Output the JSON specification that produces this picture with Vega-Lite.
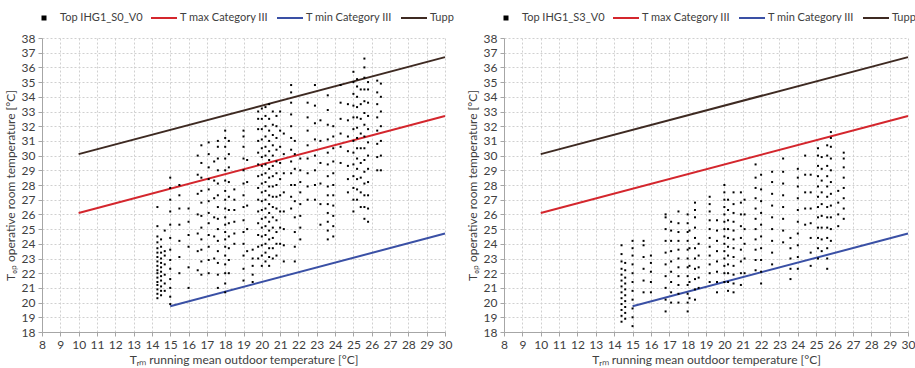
{
  "$schema": "https://vega.github.io/schema/vega-lite/v6.json",
  "background": "white",
  "padding": {"left": 4, "top": 4, "right": 0, "bottom": 4},
  "bounds": "flush",
  "config": {
    "view": {"stroke": null},
    "font": "Lato",
    "axis": {
      "grid": true, "gridDash": [2, 2], "gridColor": "#d0d0d0", "gridWidth": 1,
      "domainColor": "#a6a6a6", "tickColor": "#a6a6a6", "tickSize": 4,
      "labelFont": "Lato", "labelFontSize": 12, "labelColor": "#404040", "labelOverlap": false, "labelFlush": false,
      "titleFont": "Lato", "titleFontSize": 12, "titleFontWeight": "normal", "titleColor": "#404040"
    },
    "legend": {"labelFont": "Lato", "labelFontSize": 11, "labelColor": "#404040"}
  },
  "datasets": {
    "lines": [
      {"s": "T max Category III", "x": 10, "y": 26.1}, {"s": "T max Category III", "x": 30, "y": 32.7},
      {"s": "T min Category III", "x": 15, "y": 19.75}, {"s": "T min Category III", "x": 30, "y": 24.7},
      {"s": "Tupp", "x": 10, "y": 30.1}, {"s": "Tupp", "x": 30, "y": 36.7}
    ],
    "s0": [
      {"x":14.3,"y":20.3},{"x":14.3,"y":20.6},{"x":14.3,"y":20.9},{"x":14.3,"y":21.2},{"x":14.3,"y":21.4},{"x":14.3,"y":21.7},{"x":14.3,"y":22.0},{"x":14.3,"y":22.2},{"x":14.3,"y":22.5},{"x":14.3,"y":22.8},{"x":14.3,"y":23.1},{"x":14.3,"y":23.4},{"x":14.3,"y":23.7},{"x":14.3,"y":24.1},{"x":14.3,"y":24.5},{"x":14.3,"y":25.2},{"x":14.3,"y":26.5},
      {"x":14.5,"y":20.5},{"x":14.5,"y":20.8},{"x":14.5,"y":21.1},{"x":14.5,"y":21.5},{"x":14.5,"y":21.8},{"x":14.5,"y":22.1},{"x":14.5,"y":22.4},{"x":14.5,"y":22.7},{"x":14.5,"y":23.0},{"x":14.5,"y":23.4},{"x":14.5,"y":23.8},{"x":14.5,"y":24.3},
      {"x":14.7,"y":20.8},{"x":14.7,"y":21.3},{"x":14.7,"y":21.9},{"x":14.7,"y":22.6},{"x":14.7,"y":23.2},{"x":14.7,"y":23.5},{"x":14.7,"y":24.9},
      {"x":15.0,"y":19.9},{"x":15.0,"y":20.4},{"x":15.0,"y":21.0},{"x":15.0,"y":21.6},{"x":15.0,"y":22.3},{"x":15.0,"y":22.9},{"x":15.0,"y":23.6},{"x":15.0,"y":24.4},{"x":15.0,"y":25.3},{"x":15.0,"y":26.2},{"x":15.0,"y":27.0},{"x":15.0,"y":27.8},{"x":15.0,"y":28.5},
      {"x":15.5,"y":22.0},{"x":15.5,"y":23.1},{"x":15.5,"y":24.2},{"x":15.5,"y":25.3},{"x":15.5,"y":26.4},{"x":15.5,"y":27.3},{"x":15.5,"y":28.0},
      {"x":16.0,"y":21.0},{"x":16.0,"y":22.4},{"x":16.0,"y":23.8},{"x":16.0,"y":24.6},{"x":16.0,"y":25.5},{"x":16.0,"y":26.4},
      {"x":16.5,"y":22.2},{"x":16.5,"y":23.5},{"x":16.5,"y":24.7},{"x":16.5,"y":26.0},{"x":16.5,"y":27.4},{"x":16.5,"y":28.7},{"x":16.5,"y":30.0},
      {"x":16.7,"y":21.9},{"x":16.7,"y":22.8},{"x":16.7,"y":23.6},{"x":16.7,"y":24.3},{"x":16.7,"y":25.1},{"x":16.7,"y":25.9},{"x":16.7,"y":26.8},{"x":16.7,"y":27.6},{"x":16.7,"y":28.5},{"x":16.7,"y":29.5},{"x":16.7,"y":30.7},
      {"x":17.1,"y":22.0},{"x":17.1,"y":22.9},{"x":17.1,"y":23.8},{"x":17.1,"y":24.6},{"x":17.1,"y":25.4},{"x":17.1,"y":26.1},{"x":17.1,"y":26.9},{"x":17.1,"y":27.7},{"x":17.1,"y":28.4},{"x":17.1,"y":29.2},{"x":17.1,"y":30.1},{"x":17.1,"y":30.9},
      {"x":17.4,"y":23.0},{"x":17.4,"y":24.5},{"x":17.4,"y":25.8},{"x":17.4,"y":27.1},{"x":17.4,"y":28.3},{"x":17.4,"y":29.6},
      {"x":17.6,"y":21.0},{"x":17.6,"y":21.9},{"x":17.6,"y":22.7},{"x":17.6,"y":23.5},{"x":17.6,"y":24.2},{"x":17.6,"y":25.0},{"x":17.6,"y":25.7},{"x":17.6,"y":26.5},{"x":17.6,"y":27.3},{"x":17.6,"y":28.1},{"x":17.6,"y":29.0},{"x":17.6,"y":29.8},{"x":17.6,"y":30.6},{"x":17.6,"y":31.0},
      {"x":18.0,"y":20.7},{"x":18.0,"y":21.3},{"x":18.0,"y":22.0},{"x":18.0,"y":22.6},{"x":18.0,"y":23.2},{"x":18.0,"y":23.8},{"x":18.0,"y":24.3},{"x":18.0,"y":24.8},{"x":18.0,"y":25.3},{"x":18.0,"y":25.8},{"x":18.0,"y":26.4},{"x":18.0,"y":27.0},{"x":18.0,"y":27.6},{"x":18.0,"y":28.3},{"x":18.0,"y":29.0},{"x":18.0,"y":29.8},{"x":18.0,"y":30.6},{"x":18.0,"y":31.2},{"x":18.0,"y":31.7},
      {"x":18.2,"y":22.0},{"x":18.2,"y":22.9},{"x":18.2,"y":23.7},{"x":18.2,"y":24.5},{"x":18.2,"y":25.4},{"x":18.2,"y":26.3},{"x":18.2,"y":27.2},{"x":18.2,"y":28.2},{"x":18.2,"y":29.2},{"x":18.2,"y":30.1},{"x":18.2,"y":31.0},
      {"x":18.5,"y":24.0},{"x":18.5,"y":24.7},{"x":18.5,"y":25.5},{"x":18.5,"y":26.3},{"x":18.5,"y":27.0},{"x":18.5,"y":27.7},
      {"x":19.0,"y":21.5},{"x":19.0,"y":22.3},{"x":19.0,"y":23.2},{"x":19.0,"y":24.0},{"x":19.0,"y":24.8},{"x":19.0,"y":25.6},{"x":19.0,"y":26.5},{"x":19.0,"y":27.3},{"x":19.0,"y":28.1},{"x":19.0,"y":29.0},{"x":19.0,"y":29.8},{"x":19.0,"y":30.6},{"x":19.0,"y":31.3},{"x":19.0,"y":31.7},
      {"x":19.2,"y":23.5},{"x":19.2,"y":25.0},{"x":19.2,"y":26.6},{"x":19.2,"y":28.2},{"x":19.2,"y":29.7},
      {"x":19.5,"y":21.4},{"x":19.5,"y":21.9},{"x":19.5,"y":22.5},{"x":19.5,"y":23.0},{"x":19.5,"y":23.6},
      {"x":19.8,"y":23.0},{"x":19.8,"y":23.8},{"x":19.8,"y":24.6},{"x":19.8,"y":25.4},{"x":19.8,"y":26.2},{"x":19.8,"y":27.0},{"x":19.8,"y":27.8},{"x":19.8,"y":28.6},{"x":19.8,"y":29.4},{"x":19.8,"y":30.2},{"x":19.8,"y":31.0},{"x":19.8,"y":31.8},{"x":19.8,"y":32.5},{"x":19.8,"y":33.0},
      {"x":20.0,"y":22.5},{"x":20.0,"y":23.2},{"x":20.0,"y":23.9},{"x":20.0,"y":24.5},{"x":20.0,"y":25.1},{"x":20.0,"y":25.7},{"x":20.0,"y":26.3},{"x":20.0,"y":26.9},{"x":20.0,"y":27.5},{"x":20.0,"y":28.1},{"x":20.0,"y":28.7},{"x":20.0,"y":29.3},{"x":20.0,"y":29.9},{"x":20.0,"y":30.5},{"x":20.0,"y":31.1},{"x":20.0,"y":31.8},{"x":20.0,"y":32.5},{"x":20.0,"y":33.2},
      {"x":20.2,"y":22.8},{"x":20.2,"y":23.4},{"x":20.2,"y":24.0},{"x":20.2,"y":24.6},{"x":20.2,"y":25.2},{"x":20.2,"y":25.8},{"x":20.2,"y":26.4},{"x":20.2,"y":27.0},{"x":20.2,"y":27.6},{"x":20.2,"y":28.2},{"x":20.2,"y":28.8},{"x":20.2,"y":29.4},{"x":20.2,"y":30.0},{"x":20.2,"y":30.6},{"x":20.2,"y":31.3},{"x":20.2,"y":32.0},{"x":20.2,"y":32.7},{"x":20.2,"y":33.3},
      {"x":20.4,"y":22.5},{"x":20.4,"y":23.1},{"x":20.4,"y":23.7},{"x":20.4,"y":24.3},{"x":20.4,"y":24.9},{"x":20.4,"y":25.5},{"x":20.4,"y":26.1},{"x":20.4,"y":26.7},{"x":20.4,"y":27.3},{"x":20.4,"y":27.9},{"x":20.4,"y":28.5},{"x":20.4,"y":29.1},{"x":20.4,"y":29.7},{"x":20.4,"y":30.3},{"x":20.4,"y":31.0},{"x":20.4,"y":31.7},{"x":20.4,"y":32.5},{"x":20.4,"y":33.5},
      {"x":20.6,"y":23.0},{"x":20.6,"y":23.7},{"x":20.6,"y":24.4},{"x":20.6,"y":25.1},{"x":20.6,"y":25.8},{"x":20.6,"y":26.5},{"x":20.6,"y":27.2},{"x":20.6,"y":27.9},{"x":20.6,"y":28.6},{"x":20.6,"y":29.3},{"x":20.6,"y":30.0},{"x":20.6,"y":30.7},{"x":20.6,"y":31.4},{"x":20.6,"y":32.1},{"x":20.6,"y":33.0},
      {"x":20.8,"y":23.2},{"x":20.8,"y":24.0},{"x":20.8,"y":24.8},{"x":20.8,"y":25.6},{"x":20.8,"y":26.4},{"x":20.8,"y":27.2},{"x":20.8,"y":28.0},{"x":20.8,"y":28.8},{"x":20.8,"y":29.6},{"x":20.8,"y":30.4},{"x":20.8,"y":31.2},{"x":20.8,"y":32.0},{"x":20.8,"y":32.7},
      {"x":21.0,"y":24.0},{"x":21.0,"y":25.1},{"x":21.0,"y":26.2},{"x":21.0,"y":27.3},{"x":21.0,"y":28.4},{"x":21.0,"y":29.5},{"x":21.0,"y":30.6},{"x":21.0,"y":31.7},{"x":21.0,"y":33.0},
      {"x":21.2,"y":22.8},{"x":21.2,"y":23.9},{"x":21.2,"y":25.0},{"x":21.2,"y":26.2},{"x":21.2,"y":27.5},{"x":21.2,"y":28.8},{"x":21.2,"y":30.1},{"x":21.2,"y":31.5},
      {"x":21.6,"y":26.4},{"x":21.6,"y":27.2},{"x":21.6,"y":28.0},{"x":21.6,"y":28.8},{"x":21.6,"y":29.6},{"x":21.6,"y":30.4},{"x":21.6,"y":31.2},{"x":21.6,"y":32.0},{"x":21.6,"y":32.8},{"x":21.6,"y":33.6},{"x":21.6,"y":34.3},{"x":21.6,"y":34.8},
      {"x":21.8,"y":22.8},{"x":21.8,"y":23.8},{"x":21.8,"y":24.8},{"x":21.8,"y":25.8},{"x":21.8,"y":26.9},{"x":21.8,"y":28.0},{"x":21.8,"y":29.1},{"x":21.8,"y":30.1},{"x":21.8,"y":31.0},
      {"x":22.1,"y":24.3},{"x":22.1,"y":25.1},{"x":22.1,"y":25.9},{"x":22.1,"y":26.7},{"x":22.1,"y":27.5},{"x":22.1,"y":28.2},{"x":22.1,"y":29.0},{"x":22.1,"y":29.8},
      {"x":22.5,"y":27.0},{"x":22.5,"y":27.9},{"x":22.5,"y":28.8},{"x":22.5,"y":29.8},{"x":22.5,"y":30.7},{"x":22.5,"y":31.7},{"x":22.5,"y":32.6},{"x":22.5,"y":33.6},
      {"x":22.9,"y":27.0},{"x":22.9,"y":28.0},{"x":22.9,"y":29.0},{"x":22.9,"y":30.0},{"x":22.9,"y":31.1},{"x":22.9,"y":32.2},{"x":22.9,"y":33.4},{"x":22.9,"y":34.8},
      {"x":23.2,"y":25.3},{"x":23.2,"y":26.7},{"x":23.2,"y":28.1},{"x":23.2,"y":29.5},{"x":23.2,"y":31.0},{"x":23.2,"y":32.4},
      {"x":23.6,"y":24.3},{"x":23.6,"y":24.9},{"x":23.6,"y":25.5},{"x":23.6,"y":26.1},{"x":23.6,"y":26.7},{"x":23.6,"y":27.3},{"x":23.6,"y":27.9},{"x":23.6,"y":28.6},{"x":23.6,"y":29.4},{"x":23.6,"y":30.2},{"x":23.6,"y":31.1},{"x":23.6,"y":32.1},{"x":23.6,"y":33.1},{"x":23.6,"y":34.1},
      {"x":23.9,"y":24.5},{"x":23.9,"y":25.2},{"x":23.9,"y":25.9},{"x":23.9,"y":26.6},{"x":23.9,"y":27.3},{"x":23.9,"y":28.0},{"x":23.9,"y":28.8},{"x":23.9,"y":29.6},{"x":23.9,"y":30.5},{"x":23.9,"y":31.3},{"x":23.9,"y":32.0},
      {"x":24.3,"y":29.5},{"x":24.3,"y":30.6},{"x":24.3,"y":31.5},{"x":24.3,"y":32.5},{"x":24.3,"y":33.6},{"x":24.3,"y":34.8},
      {"x":24.7,"y":27.5},{"x":24.7,"y":28.4},{"x":24.7,"y":29.3},{"x":24.7,"y":30.3},{"x":24.7,"y":31.3},{"x":24.7,"y":32.4},{"x":24.7,"y":33.5},
      {"x":25.0,"y":26.2},{"x":25.0,"y":27.0},{"x":25.0,"y":27.8},{"x":25.0,"y":28.6},{"x":25.0,"y":29.4},{"x":25.0,"y":30.2},{"x":25.0,"y":31.0},{"x":25.0,"y":31.8},{"x":25.0,"y":32.6},{"x":25.0,"y":33.4},{"x":25.0,"y":34.2},{"x":25.0,"y":35.0},{"x":25.0,"y":35.7},
      {"x":25.2,"y":27.0},{"x":25.2,"y":27.7},{"x":25.2,"y":28.4},{"x":25.2,"y":29.1},{"x":25.2,"y":29.8},{"x":25.2,"y":30.5},{"x":25.2,"y":31.2},{"x":25.2,"y":31.9},{"x":25.2,"y":32.6},{"x":25.2,"y":33.3},{"x":25.2,"y":34.0},{"x":25.2,"y":34.7},{"x":25.2,"y":35.2},
      {"x":25.4,"y":26.5},{"x":25.4,"y":27.5},{"x":25.4,"y":28.5},{"x":25.4,"y":29.5},{"x":25.4,"y":30.5},{"x":25.4,"y":31.5},{"x":25.4,"y":32.5},{"x":25.4,"y":33.5},{"x":25.4,"y":34.5},
      {"x":25.6,"y":25.7},{"x":25.6,"y":26.5},{"x":25.6,"y":27.3},{"x":25.6,"y":28.1},{"x":25.6,"y":28.9},{"x":25.6,"y":29.7},{"x":25.6,"y":30.5},{"x":25.6,"y":31.3},{"x":25.6,"y":32.1},{"x":25.6,"y":32.9},{"x":25.6,"y":33.7},{"x":25.6,"y":34.5},{"x":25.6,"y":35.3},{"x":25.6,"y":36.0},{"x":25.6,"y":36.6},
      {"x":25.8,"y":25.5},{"x":25.8,"y":26.4},{"x":25.8,"y":27.3},{"x":25.8,"y":28.2},{"x":25.8,"y":29.1},{"x":25.8,"y":30.0},{"x":25.8,"y":30.9},{"x":25.8,"y":31.8},{"x":25.8,"y":32.7},{"x":25.8,"y":33.6},{"x":25.8,"y":34.5},{"x":25.8,"y":35.0},
      {"x":26.3,"y":29.0},{"x":26.3,"y":29.9},{"x":26.3,"y":30.8},{"x":26.3,"y":31.7},{"x":26.3,"y":32.6},{"x":26.3,"y":33.5},{"x":26.3,"y":34.3},{"x":26.3,"y":35.1},
      {"x":26.5,"y":29.0},{"x":26.5,"y":30.0},{"x":26.5,"y":31.0},{"x":26.5,"y":32.0},{"x":26.5,"y":33.0},{"x":26.5,"y":34.0},{"x":26.5,"y":34.9}
    ],
    "s3": [
      {"x":14.4,"y":18.7},{"x":14.4,"y":19.1},{"x":14.4,"y":19.5},{"x":14.4,"y":19.9},{"x":14.4,"y":20.3},{"x":14.4,"y":20.7},{"x":14.4,"y":21.1},{"x":14.4,"y":21.5},{"x":14.4,"y":21.9},{"x":14.4,"y":22.3},{"x":14.4,"y":22.8},{"x":14.4,"y":23.3},{"x":14.4,"y":23.9},
      {"x":14.6,"y":18.9},{"x":14.6,"y":19.3},{"x":14.6,"y":19.7},{"x":14.6,"y":20.1},{"x":14.6,"y":20.5},{"x":14.6,"y":20.9},{"x":14.6,"y":21.3},{"x":14.6,"y":21.7},{"x":14.6,"y":22.2},{"x":14.6,"y":22.7},
      {"x":15.0,"y":18.4},{"x":15.0,"y":19.0},{"x":15.0,"y":19.6},{"x":15.0,"y":20.2},{"x":15.0,"y":20.8},{"x":15.0,"y":21.4},{"x":15.0,"y":22.0},{"x":15.0,"y":22.6},{"x":15.0,"y":23.2},{"x":15.0,"y":23.7},{"x":15.0,"y":24.2},
      {"x":15.6,"y":20.7},{"x":15.6,"y":21.5},{"x":15.6,"y":22.3},{"x":15.6,"y":23.1},{"x":15.6,"y":23.9},{"x":15.6,"y":24.2},
      {"x":16.0,"y":20.7},{"x":16.0,"y":21.4},{"x":16.0,"y":22.1},{"x":16.0,"y":22.7},{"x":16.0,"y":23.2},
      {"x":16.8,"y":19.4},{"x":16.8,"y":20.2},{"x":16.8,"y":21.0},{"x":16.8,"y":21.8},{"x":16.8,"y":22.6},{"x":16.8,"y":23.4},{"x":16.8,"y":24.2},{"x":16.8,"y":25.0},{"x":16.8,"y":25.8},{"x":16.8,"y":26.0},
      {"x":17.1,"y":20.0},{"x":17.1,"y":20.7},{"x":17.1,"y":21.4},{"x":17.1,"y":22.1},{"x":17.1,"y":22.8},{"x":17.1,"y":23.5},{"x":17.1,"y":24.2},{"x":17.1,"y":24.9},{"x":17.1,"y":25.5},
      {"x":17.5,"y":20.0},{"x":17.5,"y":20.6},{"x":17.5,"y":21.2},{"x":17.5,"y":21.8},{"x":17.5,"y":22.4},{"x":17.5,"y":23.0},{"x":17.5,"y":23.6},{"x":17.5,"y":24.2},{"x":17.5,"y":24.8},{"x":17.5,"y":25.4},{"x":17.5,"y":26.2},
      {"x":18.0,"y":19.4},{"x":18.0,"y":20.0},{"x":18.0,"y":20.6},{"x":18.0,"y":21.2},{"x":18.0,"y":21.8},{"x":18.0,"y":22.4},{"x":18.0,"y":23.0},{"x":18.0,"y":23.6},{"x":18.0,"y":24.2},{"x":18.0,"y":24.8},{"x":18.0,"y":25.4},{"x":18.0,"y":26.0},
      {"x":18.1,"y":20.3},{"x":18.1,"y":21.4},{"x":18.1,"y":22.5},{"x":18.1,"y":23.7},{"x":18.1,"y":24.9},
      {"x":18.4,"y":20.2},{"x":18.4,"y":20.9},{"x":18.4,"y":21.6},{"x":18.4,"y":22.3},{"x":18.4,"y":23.0},{"x":18.4,"y":23.7},{"x":18.4,"y":24.4},{"x":18.4,"y":25.1},{"x":18.4,"y":25.8},{"x":18.4,"y":26.3},{"x":18.4,"y":26.8},
      {"x":18.6,"y":21.0},{"x":18.6,"y":21.7},{"x":18.6,"y":22.4},{"x":18.6,"y":23.2},{"x":18.6,"y":24.0},
      {"x":19.2,"y":21.4},{"x":19.2,"y":22.0},{"x":19.2,"y":22.6},{"x":19.2,"y":23.2},{"x":19.2,"y":23.8},{"x":19.2,"y":24.4},{"x":19.2,"y":25.0},{"x":19.2,"y":25.6},{"x":19.2,"y":26.2},{"x":19.2,"y":26.7},{"x":19.2,"y":27.2},
      {"x":19.6,"y":20.7},{"x":19.6,"y":21.4},{"x":19.6,"y":22.1},{"x":19.6,"y":22.8},{"x":19.6,"y":23.5},{"x":19.6,"y":24.2},{"x":19.6,"y":24.9},{"x":19.6,"y":25.6},
      {"x":20.0,"y":21.4},{"x":20.0,"y":22.0},{"x":20.0,"y":22.5},{"x":20.0,"y":23.0},{"x":20.0,"y":23.5},{"x":20.0,"y":24.0},{"x":20.0,"y":24.5},{"x":20.0,"y":25.0},{"x":20.0,"y":25.5},{"x":20.0,"y":26.0},{"x":20.0,"y":26.5},{"x":20.0,"y":27.0},{"x":20.0,"y":27.5},{"x":20.0,"y":28.0},
      {"x":20.2,"y":20.8},{"x":20.2,"y":21.4},{"x":20.2,"y":22.0},{"x":20.2,"y":22.6},{"x":20.2,"y":23.2},{"x":20.2,"y":23.8},{"x":20.2,"y":24.4},{"x":20.2,"y":25.0},{"x":20.2,"y":25.6},{"x":20.2,"y":26.3},{"x":20.2,"y":27.0},
      {"x":20.5,"y":20.7},{"x":20.5,"y":21.3},{"x":20.5,"y":21.9},{"x":20.5,"y":22.5},{"x":20.5,"y":23.1},{"x":20.5,"y":23.7},{"x":20.5,"y":24.3},{"x":20.5,"y":24.9},{"x":20.5,"y":25.5},{"x":20.5,"y":26.1},{"x":20.5,"y":26.7},{"x":20.5,"y":27.5},
      {"x":20.9,"y":21.2},{"x":20.9,"y":22.0},{"x":20.9,"y":22.8},{"x":20.9,"y":23.6},{"x":20.9,"y":24.4},{"x":20.9,"y":25.2},{"x":20.9,"y":26.0},{"x":20.9,"y":26.8},{"x":20.9,"y":27.5},
      {"x":21.1,"y":22.0},{"x":21.1,"y":23.0},{"x":21.1,"y":24.0},{"x":21.1,"y":25.0},{"x":21.1,"y":26.0},{"x":21.1,"y":27.0},
      {"x":21.7,"y":22.2},{"x":21.7,"y":22.9},{"x":21.7,"y":23.6},{"x":21.7,"y":24.3},{"x":21.7,"y":25.0},{"x":21.7,"y":25.7},{"x":21.7,"y":26.4},{"x":21.7,"y":27.1},{"x":21.7,"y":27.8},{"x":21.7,"y":28.5},{"x":21.7,"y":29.4},
      {"x":22.0,"y":21.3},{"x":22.0,"y":22.1},{"x":22.0,"y":22.9},{"x":22.0,"y":23.7},{"x":22.0,"y":24.5},{"x":22.0,"y":25.3},{"x":22.0,"y":26.1},{"x":22.0,"y":26.9},{"x":22.0,"y":27.7},{"x":22.0,"y":28.7},
      {"x":22.6,"y":22.6},{"x":22.6,"y":23.4},{"x":22.6,"y":24.2},{"x":22.6,"y":25.0},{"x":22.6,"y":25.8},{"x":22.6,"y":26.6},{"x":22.6,"y":27.4},{"x":22.6,"y":28.2},{"x":22.6,"y":28.9},
      {"x":23.2,"y":24.1},{"x":23.2,"y":24.9},{"x":23.2,"y":25.7},{"x":23.2,"y":26.5},{"x":23.2,"y":27.3},{"x":23.2,"y":28.1},{"x":23.2,"y":28.9},{"x":23.2,"y":29.8},
      {"x":23.6,"y":21.6},{"x":23.6,"y":22.3},{"x":23.6,"y":23.0},{"x":23.6,"y":23.7},{"x":23.6,"y":24.4},
      {"x":24.0,"y":22.3},{"x":24.0,"y":23.1},{"x":24.0,"y":23.9},{"x":24.0,"y":24.7},{"x":24.0,"y":25.5},{"x":24.0,"y":26.3},{"x":24.0,"y":27.1},{"x":24.0,"y":27.9},{"x":24.0,"y":28.5},{"x":24.0,"y":29.1},
      {"x":24.4,"y":25.3},{"x":24.4,"y":26.4},{"x":24.4,"y":27.5},{"x":24.4,"y":28.7},{"x":24.4,"y":30.0},
      {"x":24.7,"y":22.5},{"x":24.7,"y":23.4},{"x":24.7,"y":24.4},{"x":24.7,"y":25.4},{"x":24.7,"y":26.4},{"x":24.7,"y":27.5},{"x":24.7,"y":28.7},
      {"x":25.1,"y":23.0},{"x":25.1,"y":23.7},{"x":25.1,"y":24.4},{"x":25.1,"y":25.1},{"x":25.1,"y":25.8},{"x":25.1,"y":26.5},{"x":25.1,"y":27.2},{"x":25.1,"y":27.9},{"x":25.1,"y":28.6},{"x":25.1,"y":29.3},{"x":25.1,"y":30.0},{"x":25.1,"y":30.5},
      {"x":25.3,"y":23.5},{"x":25.3,"y":24.3},{"x":25.3,"y":25.1},{"x":25.3,"y":25.9},{"x":25.3,"y":26.7},{"x":25.3,"y":27.5},{"x":25.3,"y":28.3},{"x":25.3,"y":29.1},{"x":25.3,"y":29.9},
      {"x":25.6,"y":22.3},{"x":25.6,"y":23.0},{"x":25.6,"y":23.7},{"x":25.6,"y":24.4},{"x":25.6,"y":25.1},{"x":25.6,"y":25.8},{"x":25.6,"y":26.5},{"x":25.6,"y":27.2},{"x":25.6,"y":27.9},{"x":25.6,"y":28.6},{"x":25.6,"y":29.3},{"x":25.6,"y":30.0},{"x":25.6,"y":30.7},
      {"x":25.8,"y":24.2},{"x":25.8,"y":25.0},{"x":25.8,"y":25.8},{"x":25.8,"y":26.6},{"x":25.8,"y":27.4},{"x":25.8,"y":28.2},{"x":25.8,"y":29.0},{"x":25.8,"y":29.8},{"x":25.8,"y":30.6},{"x":25.8,"y":31.2},{"x":25.8,"y":31.6},
      {"x":26.2,"y":25.2},{"x":26.2,"y":26.0},{"x":26.2,"y":26.8},{"x":26.2,"y":27.6},
      {"x":26.5,"y":25.7},{"x":26.5,"y":26.4},{"x":26.5,"y":27.1},{"x":26.5,"y":27.8},{"x":26.5,"y":28.5},{"x":26.5,"y":29.2},{"x":26.5,"y":29.8},{"x":26.5,"y":30.2}
    ]
  },
  "hconcat": [
    {
      "width": 403, "height": 294,
      "encoding": {
        "x": {"field": "x", "type": "quantitative", "scale": {"domain": [8, 30], "nice": false},
          "axis": {"values": [8,9,10,11,12,13,14,15,16,17,18,19,20,21,22,23,24,25,26,27,28,29,30], "title": "Tᵣₘ running mean outdoor temperature [°C]", "labelPadding": 3, "titlePadding": 4}},
        "y": {"field": "y", "type": "quantitative", "scale": {"domain": [18, 38], "nice": false},
          "axis": {"values": [18,19,20,21,22,23,24,25,26,27,28,29,30,31,32,33,34,35,36,37,38], "title": "Tₒₚ operative room temperature [°C]", "labelPadding": 3, "titlePadding": 4}}
      },
      "layer": [
        {
          "data": {"name": "lines"},
          "mark": {"type": "line", "strokeWidth": 2},
          "encoding": {
            "color": {"field": "s", "type": "nominal",
              "scale": {"domain": ["Top IHG1_S0_V0", "T max Category III", "T min Category III", "Tupp"], "range": ["#000000", "#d4262d", "#3a50a5", "#3e2a22"]},
              "legend": {"title": null, "orient": "none", "legendX": -12, "legendY": -34, "direction": "horizontal", "columnPadding": 4, "labelOffset": 2, "symbolType": "stroke", "symbolSize": 676, "symbolStrokeWidth": 2, "padding": 0, "gridAlign": "none",
                "encode": {"symbols": {"update": {
                  "shape": {"signal": "datum.value == 'Top IHG1_S0_V0' ? 'square' : 'stroke'"},
                  "size": {"signal": "datum.value == 'Top IHG1_S0_V0' ? 9 : 676"},
                  "fill": {"signal": "datum.value == 'Top IHG1_S0_V0' ? '#000000' : 'transparent'"},
                  "stroke": {"signal": "datum.value == 'T max Category III' ? '#d4262d' : datum.value == 'T min Category III' ? '#3a50a5' : datum.value == 'Tupp' ? '#3e2a22' : 'transparent'"},
                  "strokeWidth": {"value": 2}
                }}}}
            }
          }
        },
        {
          "data": {"name": "s0"},
          "mark": {"type": "square", "size": 4, "opacity": 1, "color": "#000000"}
        }
      ]
    },
    {
      "width": 404, "height": 294,
      "encoding": {
        "x": {"field": "x", "type": "quantitative", "scale": {"domain": [8, 30], "nice": false},
          "axis": {"values": [8,9,10,11,12,13,14,15,16,17,18,19,20,21,22,23,24,25,26,27,28,29,30], "title": "Tᵣₘ running mean outdoor temperature [°C]", "labelPadding": 3, "titlePadding": 4}},
        "y": {"field": "y", "type": "quantitative", "scale": {"domain": [18, 38], "nice": false},
          "axis": {"values": [18,19,20,21,22,23,24,25,26,27,28,29,30,31,32,33,34,35,36,37,38], "title": "Tₒₚ operative room temperature [°C]", "labelPadding": 3, "titlePadding": 4}}
      },
      "layer": [
        {
          "data": {"name": "lines"},
          "mark": {"type": "line", "strokeWidth": 2},
          "encoding": {
            "color": {"field": "s", "type": "nominal",
              "scale": {"domain": ["Top IHG1_S3_V0", "T max Category III", "T min Category III", "Tupp"], "range": ["#000000", "#d4262d", "#3a50a5", "#3e2a22"]},
              "legend": {"title": null, "orient": "none", "legendX": -12, "legendY": -34, "direction": "horizontal", "columnPadding": 4, "labelOffset": 2, "symbolType": "stroke", "symbolSize": 676, "symbolStrokeWidth": 2, "padding": 0, "gridAlign": "none",
                "encode": {"symbols": {"update": {
                  "shape": {"signal": "datum.value == 'Top IHG1_S3_V0' ? 'square' : 'stroke'"},
                  "size": {"signal": "datum.value == 'Top IHG1_S3_V0' ? 9 : 676"},
                  "fill": {"signal": "datum.value == 'Top IHG1_S3_V0' ? '#000000' : 'transparent'"},
                  "stroke": {"signal": "datum.value == 'T max Category III' ? '#d4262d' : datum.value == 'T min Category III' ? '#3a50a5' : datum.value == 'Tupp' ? '#3e2a22' : 'transparent'"},
                  "strokeWidth": {"value": 2}
                }}}}
            }
          }
        },
        {
          "data": {"name": "s3"},
          "mark": {"type": "square", "size": 4, "opacity": 1, "color": "#000000"}
        }
      ]
    }
  ],
  "spacing": 59,
  "resolve": {"scale": {"color": "independent"}, "legend": {"color": "independent"}}
}
